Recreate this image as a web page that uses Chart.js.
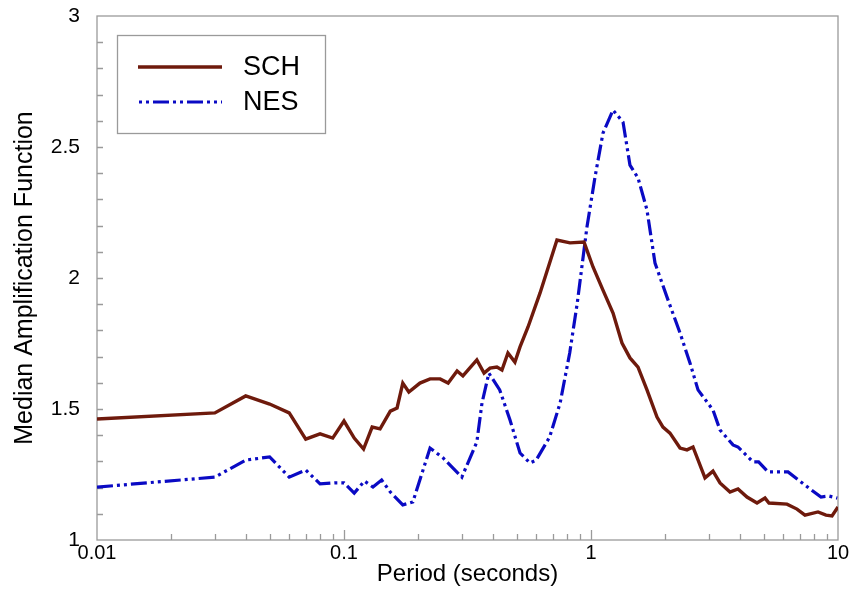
<!DOCTYPE html>
<html>
<head>
<meta charset="utf-8">
<script src="https://cdn.jsdelivr.net/npm/chart.js@4.4.1/dist/chart.umd.min.js"></script>
<style>
html,body{margin:0;padding:0;background:#fff;}
#c{display:block;}
</style>
</head>
<body>
<canvas id="c" width="860" height="589"></canvas>
<script>
// ---- data ----
const schPeriods = [0.01,0.03,0.04,0.05,0.06,0.07,0.08,0.09,0.10,0.11,0.12,0.13,0.14,0.154,0.164,0.173,0.183,0.203,0.223,0.245,0.264,0.287,0.303,0.345,0.369,0.39,0.416,0.436,0.461,0.492,0.516,0.556,0.622,0.728,0.822,0.937,1.019,1.118,1.228,1.335,1.438,1.55,1.685,1.85,1.956,2.088,2.293,2.447,2.588,2.894,3.118,3.329,3.654,3.937,4.281,4.7,5.064,5.255,6.216,6.823,7.352,8.299,8.942,9.456,10];
const schValues  = [1.462,1.485,1.550,1.519,1.485,1.385,1.405,1.389,1.454,1.389,1.347,1.431,1.424,1.492,1.504,1.599,1.565,1.599,1.615,1.615,1.599,1.645,1.626,1.687,1.637,1.656,1.660,1.649,1.714,1.679,1.737,1.813,1.943,2.145,2.134,2.137,2.042,1.954,1.866,1.752,1.695,1.660,1.573,1.469,1.431,1.408,1.351,1.344,1.355,1.237,1.263,1.218,1.183,1.195,1.164,1.141,1.160,1.141,1.137,1.118,1.095,1.107,1.095,1.092,1.126];

const nesPeriods = [0.01,0.03,0.04,0.05,0.06,0.07,0.08,0.092,0.10,0.11,0.121,0.131,0.142,0.154,0.173,0.19,0.223,0.252,0.30,0.345,0.362,0.386,0.427,0.47,0.516,0.566,0.60,0.68,0.75,0.82,0.88,0.963,1.038,1.118,1.228,1.348,1.438,1.55,1.685,1.816,2.031,2.293,2.516,2.712,3.118,3.329,3.758,3.937,4.528,4.77,5.207,6.276,7.63,8.536,9.196,9.93];
const nesValues  = [1.202,1.240,1.305,1.317,1.240,1.267,1.214,1.218,1.218,1.179,1.225,1.202,1.229,1.183,1.134,1.145,1.351,1.313,1.240,1.374,1.523,1.637,1.573,1.458,1.332,1.294,1.305,1.393,1.523,1.714,1.905,2.195,2.385,2.553,2.641,2.595,2.431,2.382,2.260,2.057,1.927,1.790,1.676,1.573,1.496,1.420,1.363,1.355,1.298,1.298,1.260,1.260,1.198,1.164,1.168,1.160];

const xTickValues = [0.01, 0.1, 1, 10];
const xTickLabels = ['0.01', '0.1', '1', '10'];
const yTickValues = [1, 1.5, 2, 2.5, 3];
const yTickLabels = ['1', '1.5', '2', '2.5', '3'];
const seriesNames = ['SCH', 'NES'];

// ---- styles ----
const SCH_COLOR = '#6e1a0c';
const NES_COLOR = '#0a0ac4';
const NES_DASH = [16, 4, 3, 4, 3, 4];
const FONT = "'Liberation Sans', Arial, sans-serif";
const FRAME = '#9a9a9a';

const toPts = (xs, ys) => xs.map((x, i) => ({x: x, y: ys[i]}));

const framePlugin = {
  id: 'frameTicks',
  beforeDatasetsDraw(chart) {
    const {ctx, chartArea: a, scales} = chart;
    const xs = scales.x, ys = scales.y;
    ctx.save();
    ctx.strokeStyle = FRAME;
    ctx.lineWidth = 1.3;
    ctx.strokeRect(a.left, a.top, a.right - a.left, a.bottom - a.top);
    ctx.beginPath();
    for (let k = 1; k < 20; k++) {
      const v = 1 + k * 0.1;
      const py = Math.round(ys.getPixelForValue(v)) + 0.5;
      ctx.moveTo(a.left, py);
      ctx.lineTo(a.left + 6, py);
    }
    for (let d = -2; d < 1; d++) {
      for (let m = 1; m <= 9; m++) {
        const v = m * Math.pow(10, d);
        if (v <= 0.01) continue;
        const px = Math.round(xs.getPixelForValue(v)) + 0.5;
        const len = (m === 1) ? 10 : 6;
        ctx.moveTo(px, a.bottom);
        ctx.lineTo(px, a.bottom - len);
      }
    }
    ctx.stroke();
    ctx.restore();
  },
  afterDraw(chart) {
    const ctx = chart.ctx;
    const ds = chart.data.datasets;
    ctx.save();
    ctx.fillStyle = '#fff';
    ctx.fillRect(117, 35, 208, 98);
    ctx.strokeStyle = FRAME;
    ctx.lineWidth = 1.3;
    ctx.strokeRect(117.5, 35.5, 208, 98);
    const rows = [67, 102];
    ds.forEach((d, i) => {
      ctx.save();
      ctx.strokeStyle = d.borderColor;
      ctx.lineWidth = d.borderWidth;
      ctx.setLineDash(d.borderDash || []);
      if (d.borderDash) ctx.lineDashOffset = -15;
      ctx.beginPath();
      ctx.moveTo(138, rows[i]);
      ctx.lineTo(222, rows[i]);
      ctx.stroke();
      ctx.restore();
      ctx.fillStyle = '#000';
      ctx.font = '27px ' + FONT;
      ctx.textBaseline = 'middle';
      ctx.textAlign = 'left';
      ctx.fillText(d.label, 243, rows[i] + 1);
    });
    ctx.restore();
  }
};

new Chart(document.getElementById('c'), {
  type: 'line',
  data: {
    datasets: [
      {
        label: seriesNames[0],
        data: toPts(schPeriods, schValues),
        borderColor: SCH_COLOR,
        borderWidth: 3.4,
        pointRadius: 0,
        tension: 0,
        fill: false
      },
      {
        label: seriesNames[1],
        data: toPts(nesPeriods, nesValues),
        borderColor: NES_COLOR,
        borderWidth: 3.2,
        borderDash: NES_DASH,
        pointRadius: 0,
        tension: 0,
        fill: false
      }
    ]
  },
  options: {
    responsive: false,
    devicePixelRatio: 1,
    animation: false,
    layout: {padding: {left: 0, right: 22, top: 16, bottom: 0}},
    plugins: {
      legend: {display: false},
      tooltip: {enabled: false}
    },
    scales: {
      x: {
        type: 'logarithmic',
        min: 0.01,
        max: 10,
        grid: {display: false, drawTicks: false, tickLength: 0},
        border: {display: false},
        afterBuildTicks: (s) => { s.ticks = xTickValues.map(v => ({value: v})); },
        afterFit: (s) => { s.height = 49; },
        ticks: {
          autoSkip: false,
          maxRotation: 0,
          padding: 1,
          color: '#000',
          font: {family: FONT, size: 20},
          callback: (v) => { const i = xTickValues.indexOf(v); return i >= 0 ? xTickLabels[i] : ''; }
        },
        title: {
          display: true,
          text: 'Period (seconds)',
          color: '#000',
          font: {family: FONT, size: 24},
          padding: {top: 0, bottom: 0}
        }
      },
      y: {
        type: 'linear',
        min: 1,
        max: 3,
        grid: {display: false, drawTicks: false, tickLength: 0},
        border: {display: false},
        afterBuildTicks: (s) => { s.ticks = yTickValues.map(v => ({value: v})); },
        afterFit: (s) => { s.width = 97; s.paddingTop = 12; s.paddingBottom = 12; },
        ticks: {
          padding: 17,
          color: '#000',
          font: {family: FONT, size: 21},
          callback: (v) => { const i = yTickValues.indexOf(v); return i >= 0 ? yTickLabels[i] : ''; }
        },
        title: {
          display: true,
          text: 'Median Amplification Function',
          color: '#000',
          font: {family: FONT, size: 25},
          padding: {top: 10, bottom: 0}
        }
      }
    }
  },
  plugins: [framePlugin]
});
</script>
</body>
</html>
